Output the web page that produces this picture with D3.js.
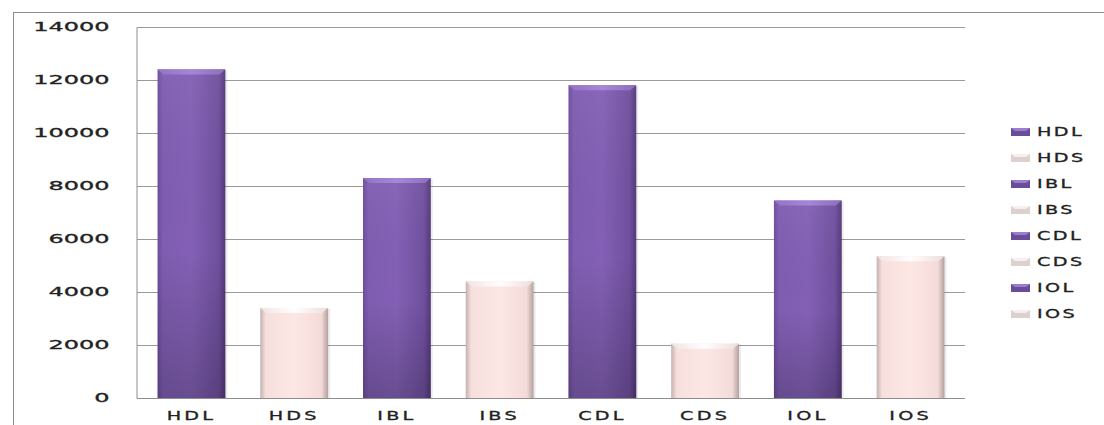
<!DOCTYPE html>
<html><head><meta charset="utf-8">
<script src="https://cdn.jsdelivr.net/npm/d3@7"></script>
<style>body{margin:0;background:#fff;} svg{display:block;}</style>
</head><body>
<svg id="c" width="1104" height="425"></svg>
<script>
const categories = ["HDL","HDS","IBL","IBS","CDL","CDS","IOL","IOS"];
const values = [12400, 3400, 8300, 4400, 11800, 2050, 7450, 5350];
const kinds = ["L","S","L","S","L","S","L","S"];
const yTicks = [0,2000,4000,6000,8000,10000,12000,14000];

const svg = d3.select("#c");
const m = {left:137, top:27, right:965, bottom:398};
const FONT = "DejaVu Sans";

const defs = svg.append("defs");
function hgrad(id, stops){
  const g = defs.append("linearGradient").attr("id",id).attr("x1","0").attr("x2","1").attr("y1","0").attr("y2","0");
  stops.forEach(s=>g.append("stop").attr("offset",s[0]).attr("stop-color",s[1]));
}
function vgrad(id, stops){
  const g = defs.append("linearGradient").attr("id",id).attr("x1","0").attr("x2","0").attr("y1","0").attr("y2","1");
  stops.forEach(s=>g.append("stop").attr("offset",s[0]).attr("stop-color",s[1]));
}
hgrad("gL",[[0,"#6c4d9a"],[0.08,"#7f5db1"],[0.5,"#8360b5"],[0.9,"#6f509e"],[1,"#53397a"]]);
vgrad("gLv",[[0,"rgba(255,255,255,0.04)"],[0.55,"rgba(0,0,0,0.0)"],[1,"rgba(0,0,0,0.2)"]]);
hgrad("gS",[[0,"#c4b1b0"],[0.08,"#f6dfdd"],[0.5,"#fde7e5"],[0.9,"#f3dbd9"],[1,"#b3a09f"]]);
hgrad("gLtop",[[0,"#9372c4"],[0.5,"#a586d8"],[1,"#8e6dbd"]]);
hgrad("gStop",[[0,"#f1e3e2"],[0.5,"#ffffff"],[1,"#eeddda"]]);

// outer border
svg.append("rect").attr("x",13.5).attr("y",12.5).attr("width",1110).attr("height",430)
  .attr("fill","none").attr("stroke","#8c8c8c").attr("stroke-width",1);

const x = d3.scaleBand().domain(categories).range([m.left, m.right]).paddingInner(0.34).paddingOuter(0.2);
const y = d3.scaleLinear().domain([0,14000]).range([m.bottom, m.top]);

// gridlines
svg.append("g").selectAll("line").data(yTicks.filter(d=>d>0)).join("line")
  .attr("x1",m.left).attr("x2",m.right).attr("y1",d=>Math.round(y(d))+0.5).attr("y2",d=>Math.round(y(d))+0.5)
  .attr("stroke","#9a9a9a").attr("stroke-width",1);

function stretch(sel, sx){
  sel.each(function(){
    const t = d3.select(this);
    const xv = +t.attr("x") || 0;
    t.attr("x", xv/sx).attr("transform", `scale(${sx},1)`);
  });
}

// axes
const yAxis = svg.append("g").attr("transform",`translate(${m.left-0.5},0)`)
  .call(d3.axisLeft(y).tickValues(yTicks).tickSize(0).tickPadding(27).tickFormat(d3.format("d")));
yAxis.select(".domain").attr("stroke","#8c8c8c");
yAxis.selectAll("text").attr("font-family",FONT).attr("font-size","12px").attr("fill","#222")
  .attr("stroke","#222").attr("stroke-width",0.3);
stretch(yAxis.selectAll("text"), 2.0);

const xAxis = svg.append("g").attr("transform",`translate(0,${m.bottom+0.5})`)
  .call(d3.axisBottom(x).tickSize(0).tickPadding(13));
xAxis.select(".domain").attr("stroke","#8c8c8c").attr("d",`M${m.left},0H${m.right}`);
xAxis.selectAll("text").attr("font-family",FONT).attr("font-size","12px")
  .attr("letter-spacing","2px").attr("fill","#222").attr("stroke","#222").attr("stroke-width",0.3);
stretch(xAxis.selectAll("text"), 1.6);

// bars
const bars = svg.append("g");
categories.forEach((c,i)=>{
  const bx = x(c), bw = x.bandwidth(), by = y(values[i]), bh = y(0)-y(values[i]);
  const L = kinds[i]==="L";
  bars.append("rect").attr("x",bx+2).attr("y",by+1).attr("width",bw).attr("height",bh-1)
    .attr("fill","rgba(0,0,0,0.08)");
  bars.append("rect").attr("x",bx).attr("y",by).attr("width",bw).attr("height",bh)
    .attr("fill",L?"url(#gL)":"url(#gS)");
  if(L) bars.append("rect").attr("x",bx).attr("y",by).attr("width",bw).attr("height",bh).attr("fill","url(#gLv)");
  const t = 5;
  bars.append("path")
    .attr("d",`M${bx},${by}H${bx+bw}L${bx+bw-6},${by+t}H${bx+6}Z`)
    .attr("fill",L?"url(#gLtop)":"url(#gStop)");
});

// legend
const leg = svg.append("g");
categories.forEach((c,i)=>{
  const ly = 132 + i*26;
  const L = kinds[i]==="L";
  leg.append("rect").attr("x",1011).attr("y",ly-4).attr("width",19).attr("height",8)
    .attr("fill",L?"#6a4d98":"#ddd0cf");
  leg.append("path").attr("d",`M1011,${ly-4}H1030L1026,${ly-1}H1015Z`).attr("fill",L?"#9c7dd0":"#f7eeee");
  const t = leg.append("text").attr("x",1037).attr("y",ly).attr("dy","0.36em").text(c)
    .attr("font-family",FONT).attr("font-size","12px")
    .attr("letter-spacing","1.5px").attr("fill","#222").attr("stroke","#222").attr("stroke-width",0.3);
  stretch(t, 1.6);
});
</script>
</body></html>
